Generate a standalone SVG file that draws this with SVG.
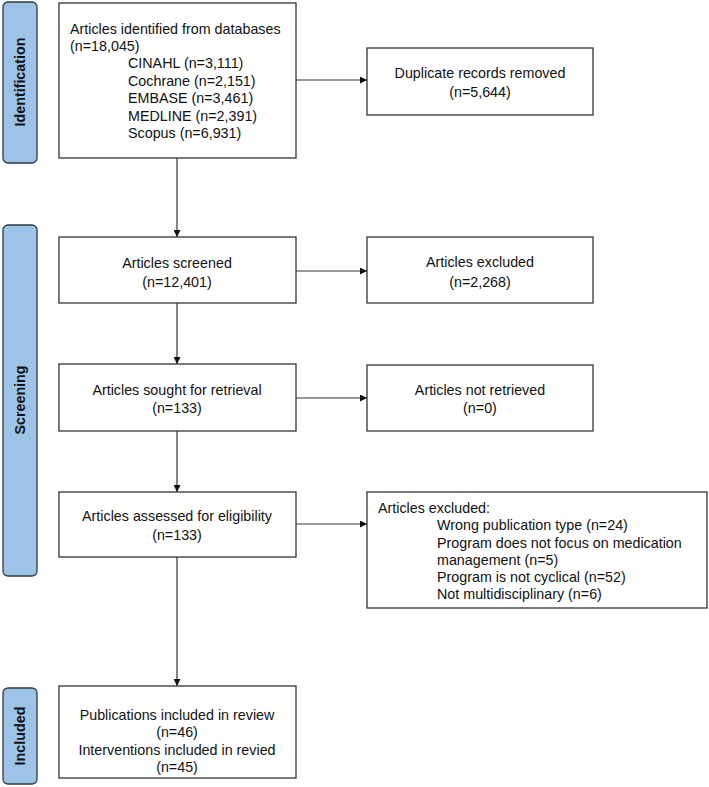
<svg xmlns="http://www.w3.org/2000/svg" width="709" height="787" viewBox="0 0 709 787">
<style>
.box{fill:#fff;stroke:#333;stroke-width:1.3}
.side{fill:#9dc3e6;stroke:#2d3a48;stroke-width:1.3}
.t{font-family:"Liberation Sans",Arial,sans-serif;font-size:14.3px;fill:#111}
.c{text-anchor:middle}
.s{font-family:"Liberation Sans",Arial,sans-serif;font-size:14.3px;font-weight:bold;fill:#111;text-anchor:middle}
.ln{stroke:#333;stroke-width:1.2;fill:none}
</style>
<defs>
<marker id="ah" viewBox="0 0 10 10" refX="10" refY="5" markerWidth="7" markerHeight="7" orient="auto" markerUnits="userSpaceOnUse">
<path d="M0,0 L10,5 L0,10 z" fill="#111"/>
</marker>
</defs>
<g id="side-identification">
<rect class="side" x="3" y="2" width="34" height="161" rx="5"/>
<text class="s" transform="translate(25,82) rotate(-90)">Identification</text>
</g>
<g id="side-screening">
<rect class="side" x="3" y="225" width="34" height="351" rx="5"/>
<text class="s" transform="translate(25,400) rotate(-90)">Screening</text>
</g>
<g id="side-included">
<rect class="side" x="3" y="688" width="34" height="96" rx="5"/>
<text class="s" transform="translate(25,736) rotate(-90)">Included</text>
</g>
<g id="identified">
<rect class="box" x="59" y="3" width="237" height="155"/>
<text class="t" x="70" y="34">Articles identified from databases</text>
<text class="t" x="70" y="51">(n=18,045)</text>
<text class="t" x="128" y="68">CINAHL (n=3,111)</text>
<text class="t" x="128" y="86">Cochrane (n=2,151)</text>
<text class="t" x="128" y="103">EMBASE (n=3,461)</text>
<text class="t" x="128" y="121">MEDLINE (n=2,391)</text>
<text class="t" x="128" y="138">Scopus (n=6,931)</text>
</g>
<g id="duplicates">
<rect class="box" x="367" y="48" width="226" height="67"/>
<text class="t c" x="480" y="78">Duplicate records removed</text>
<text class="t c" x="480" y="97">(n=5,644)</text>
</g>
<g id="screened">
<rect class="box" x="59" y="237" width="237" height="66"/>
<text class="t c" x="177" y="268">Articles screened</text>
<text class="t c" x="177" y="287">(n=12,401)</text>
</g>
<g id="excluded1">
<rect class="box" x="367" y="237" width="226" height="66"/>
<text class="t c" x="480" y="267">Articles excluded</text>
<text class="t c" x="480" y="287">(n=2,268)</text>
</g>
<g id="sought">
<rect class="box" x="59" y="364" width="237" height="67"/>
<text class="t c" x="177" y="395">Articles sought for retrieval</text>
<text class="t c" x="177" y="413">(n=133)</text>
</g>
<g id="notretrieved">
<rect class="box" x="367" y="365" width="226" height="66"/>
<text class="t c" x="480" y="395">Articles not retrieved</text>
<text class="t c" x="480" y="413">(n=0)</text>
</g>
<g id="assessed">
<rect class="box" x="59" y="492" width="237" height="65"/>
<text class="t c" x="177" y="521">Articles assessed for eligibility</text>
<text class="t c" x="177" y="540">(n=133)</text>
</g>
<g id="excluded2">
<rect class="box" x="367" y="492" width="340" height="116"/>
<text class="t" x="378" y="513">Articles excluded:</text>
<text class="t" x="437" y="530">Wrong publication type (n=24)</text>
<text class="t" x="437" y="548">Program does not focus on medication</text>
<text class="t" x="437" y="565">management (n=5)</text>
<text class="t" x="437" y="582">Program is not cyclical (n=52)</text>
<text class="t" x="437" y="599">Not multidisciplinary (n=6)</text>
</g>
<g id="included">
<rect class="box" x="59" y="686" width="237" height="92"/>
<text class="t c" x="177" y="720">Publications included in review</text>
<text class="t c" x="177" y="737">(n=46)</text>
<text class="t c" x="177" y="755">Interventions included in revied</text>
<text class="t c" x="177" y="772">(n=45)</text>
</g>
<g id="connectors">
<line class="ln" x1="296" y1="80" x2="367" y2="80" marker-end="url(#ah)"/>
<line class="ln" x1="177" y1="158" x2="177" y2="237" marker-end="url(#ah)"/>
<line class="ln" x1="296" y1="271" x2="367" y2="271" marker-end="url(#ah)"/>
<line class="ln" x1="177" y1="303" x2="177" y2="364" marker-end="url(#ah)"/>
<line class="ln" x1="296" y1="398" x2="367" y2="398" marker-end="url(#ah)"/>
<line class="ln" x1="177" y1="431" x2="177" y2="492" marker-end="url(#ah)"/>
<line class="ln" x1="296" y1="524" x2="367" y2="524" marker-end="url(#ah)"/>
<line class="ln" x1="177" y1="557" x2="177" y2="686" marker-end="url(#ah)"/>
</g>
</svg>
